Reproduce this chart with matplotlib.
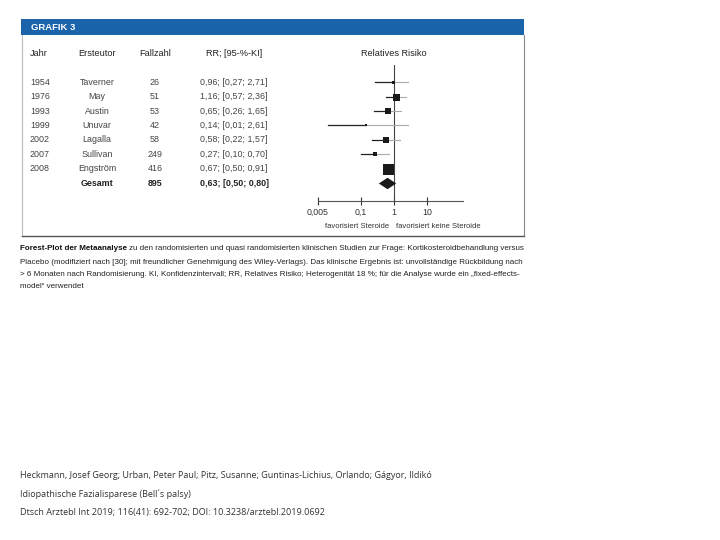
import matplotlib.pyplot as plt
import matplotlib.transforms as mtransforms
from matplotlib.patches import Rectangle
from matplotlib.lines import Line2D
import numpy as np

plt.rcParams['font.family'] = ['Liberation Sans', 'DejaVu Sans']

# study data
years = ["1954", "1976", "1993", "1999", "2002", "2007", "2008", ""]
authors = ["Taverner", "May", "Austin", "Unuvar", "Lagalla", "Sullivan", "Engström", "Gesamt"]
cases = ["26", "51", "53", "42", "58", "249", "416", "895"]
rr = [0.96, 1.16, 0.65, 0.14, 0.58, 0.27, 0.67, 0.63]
ci_low = [0.27, 0.57, 0.26, 0.01, 0.22, 0.10, 0.50, 0.50]
ci_high = [2.71, 2.36, 1.65, 2.61, 1.57, 0.70, 0.91, 0.80]
weight = [3, 7, 6, 2, 6, 5, 11, 0]  # relative box size
rr_labels = ["0,96; [0,27; 2,71]", "1,16; [0,57; 2,36]", "0,65; [0,26; 1,65]",
             "0,14; [0,01; 2,61]", "0,58; [0,22; 1,57]", "0,27; [0,10; 0,70]",
             "0,67; [0,50; 0,91]", "0,63; [0,50; 0,80]"]
tick_vals = [0.005, 0.1, 1, 10]
tick_labels = ["0,005", "0,1", "1", "10"]

W, H = 720, 540
fig = plt.figure(figsize=(7.2, 5.4), dpi=100)


def fx(px):
    return px / W


def fy(py):
    return 1 - py / H


# frame and header bar
fig.lines.append(Line2D([fx(21.5), fx(21.5)], [fy(35), fy(236)], transform=fig.transFigure,
                        color='#bbbbbb', lw=0.8))
fig.lines.append(Line2D([fx(523.5), fx(523.5)], [fy(35), fy(236)], transform=fig.transFigure,
                        color='#888888', lw=0.8))
fig.lines.append(Line2D([fx(21.5), fx(524)], [fy(236), fy(236)], transform=fig.transFigure,
                        color='#555555', lw=1.0))
fig.patches.append(Rectangle((fx(21), fy(35)), fx(503), 16 / H, transform=fig.transFigure,
                             facecolor='#1b63ab', edgecolor='none', zorder=-1))
fig.text(fx(31), fy(27.5), "GRAFIK 3", color='white', fontsize=6.8, fontweight='bold', va='center')

# forest plot axes
ax = fig.add_axes([fx(308), fy(201), fx(158.4), 136 / H])
ax.set_xscale('log')
ax.set_xlim(10 ** -2.6, 10 ** 2.2)
ax.set_ylim(8.25, -1.2)
ax.patch.set_visible(False)
for s in ['top', 'right', 'left']:
    ax.spines[s].set_visible(False)
ax.spines['bottom'].set_bounds(0.005, 10 ** 2.1)
ax.spines['bottom'].set_color('#555555')
ax.spines['bottom'].set_linewidth(0.8)
ax.set_yticks([])
ax.set_xticks(tick_vals)
ax.set_xticklabels(tick_labels)
ax.minorticks_off()
ax.tick_params(axis='x', direction='inout', length=6, width=0.8, color='#333333',
               labelsize=6.3, labelcolor='#333333', pad=2)
ax.axvline(1, color='#444444', lw=0.8)

n = len(rr)
for i in range(n):
    if i < n - 1:
        ax.plot([ci_low[i], rr[i]], [i, i], color='#222222', lw=0.9)
        ax.plot([rr[i], ci_high[i]], [i, i], color='#aaaaaa', lw=0.8)
        ax.plot(rr[i], i, marker='s', color='#1a1a1a', markersize=weight[i] * 0.72, mew=0)
    else:
        ax.plot([ci_low[i] * 0.82, ci_high[i] * 1.3], [i, i], color='#555555', lw=0.8)
        diamond = [(-1, 0), (0, 0.66), (1, 0), (0, -0.66), (-1, 0)]
        ax.plot(rr[i], i, marker=diamond, color='#1a1a1a', markersize=12.5, mew=0)

ax.text(1, -2.0, "Relatives Risiko", ha='center', va='center', fontsize=6.6, color='#222222',
        clip_on=False)
ax.text(0.72, 10.0, "favorisiert Steroide", ha='right', va='center', fontsize=5.5,
        color='#333333', clip_on=False)
ax.text(1.15, 10.0, "favorisiert keine Steroide", ha='left', va='center', fontsize=5.5,
        color='#333333', clip_on=False)

# table columns, aligned to the forest plot rows
tr = mtransforms.blended_transform_factory(fig.transFigure, ax.transData)
hdr_y = -2.0
fig.text(fx(30), hdr_y, "Jahr", transform=tr, fontsize=6.6, va='center', color='#222222')
fig.text(fx(97), hdr_y, "Ersteutor", transform=tr, fontsize=6.6, va='center', ha='center', color='#222222')
fig.text(fx(155), hdr_y, "Fallzahl", transform=tr, fontsize=6.6, va='center', ha='center', color='#222222')
fig.text(fx(234), hdr_y, "RR; [95-%-KI]", transform=tr, fontsize=6.6, va='center', ha='center', color='#222222')
for i in range(n):
    bold = 'bold' if i == n - 1 else 'normal'
    col = '#222222' if i == n - 1 else '#444444'
    fig.text(fx(30), i, years[i], transform=tr, fontsize=6.4, va='center', color=col)
    fig.text(fx(97), i, authors[i], transform=tr, fontsize=6.4, va='center', ha='center',
             color=col, fontweight=bold)
    fig.text(fx(155), i, cases[i], transform=tr, fontsize=6.4, va='center', ha='center',
             color=col, fontweight=bold)
    fig.text(fx(234), i, rr_labels[i], transform=tr, fontsize=6.4, va='center', ha='center',
             color=col, fontweight=bold)

# caption
cap_fs = 5.8
renderer = fig.canvas.get_renderer()
t = fig.text(fx(20), fy(249), "Forest-Plot der Metaanalyse", fontsize=cap_fs, fontweight='bold',
             va='center', color='#111111')
bb = t.get_window_extent(renderer)
fig.text(bb.x1 / W + fx(2), fy(249),
         "zu den randomisierten und quasi randomisierten klinischen Studien zur Frage: "
         "Kortikosteroidbehandlung versus", fontsize=cap_fs, va='center', color='#222222')
caption = [
    "Placebo (modifiziert nach [30]; mit freundlicher Genehmigung des Wiley-Verlags). "
    "Das klinische Ergebnis ist: unvollständige Rückbildung nach",
    "> 6 Monaten nach Randomisierung. KI, Konfidenzintervall; RR, Relatives Risiko; "
    "Heterogenität 18 %; für die Analyse wurde ein „fixed-effects-",
    "model“ verwendet",
]
for k, line in enumerate(caption):
    fig.text(fx(20), fy(262 + 12.5 * k), line, fontsize=cap_fs, va='center', color='#222222')

# source footer
footer = [
    "Heckmann, Josef Georg; Urban, Peter Paul; Pitz, Susanne; Guntinas-Lichius, Orlando; Gágyor, Ildikó",
    "Idiopathische Fazialisparese (Bell´s palsy)",
    "Dtsch Arztebl Int 2019; 116(41): 692-702; DOI: 10.3238/arztebl.2019.0692",
]
for k, line in enumerate(footer):
    fig.text(fx(20), fy(476 + 18.5 * k), line, fontsize=6.5, va='center', color='#333333',
             family=['Open Sans', 'DejaVu Sans'])

fig.savefig("out.png", dpi=100)
